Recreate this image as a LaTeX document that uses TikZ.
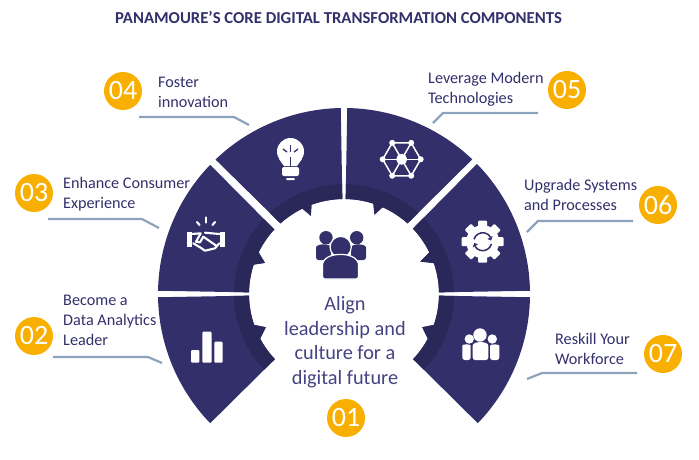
\documentclass[tikz,border=0pt]{standalone}
\usepackage{fontspec}
\setmainfont{Carlito}
\definecolor{ringnavy}{HTML}{332F6B}
\definecolor{ringdark}{HTML}{2A2759}
\definecolor{badgegold}{HTML}{F9AF00}
\definecolor{leaderblue}{HTML}{8CA3BC}
\definecolor{softnavy}{HTML}{464283}
\tikzset{
  sectorlabel/.style={font=\fontsize{16.2}{20}\selectfont,text=ringnavy,align=left,anchor=base west,inner sep=0pt},
  badge/.style={circle,fill=badgegold,text=white,minimum size=38pt,inner sep=0pt,font=\fontsize{28}{28}\selectfont},
  leader/.style={draw=leaderblue,line width=2.2pt},
  iconline/.style={white,line width=2.1pt,line join=round,line cap=round},
}
% one ring sector: outer arc from #1 to #2, then the inner edge #3
\newcommand\RingSector[3]{%
  \begin{scope}
    \clip (#1:186) arc (#1:#2:186) #3 -- cycle;
    \fill[ringnavy] (0,0) circle (190);
    \fill[ringdark] (0,0) circle (110);
  \end{scope}
}
\newcommand\PersonBody[5]{% left, right, top, bottom, looks
  \pgfmathsetmacro\bodyDrop{0.35*(#2-#1)}
  \path[#5,rounded corners=2.5pt] (#1,#4) -- (#1,{#3+\bodyDrop}) .. controls (#1,{#3-\bodyDrop/3}) and (#2,{#3-\bodyDrop/3}) .. (#2,{#3+\bodyDrop}) -- (#2,#4) -- cycle;
}
\begin{document}
\begin{tikzpicture}[x=1pt,y=-1pt]
\useasboundingbox (0,0) rectangle (699,459);

\node[font=\fontsize{16.7}{18}\selectfont\bfseries,text=ringnavy,inner sep=0pt] (title) at (338.5,17) {PANAMOURE’S CORE DIGITAL TRANSFORMATION COMPONENTS};

% the ring, angles run clockwise because y points down
\begin{scope}[shift={(344,294)}]
  \RingSector{136}{179}{-- (179:95) arc (179:161:95) -- (157:85) -- (152:95) arc (152:136.7:95)}
  \RingSector{181}{224}{-- (222.8:95) arc (222.8:206:95) -- (201.5:85) -- (198:95) arc (198:181:95)}
  \RingSector{226.3}{269}{-- (269:95) arc (269:250:95) -- (247:85) -- (244:95) arc (244:228:95)}
  \RingSector{271}{313.6}{-- (312:95) arc (312:294:95) -- (291:85) -- (288:95) arc (288:271:95)}
  \RingSector{315.6}{359}{-- (359:95) arc (359:341:95) -- (337:83) -- (334:95) arc (334:316.5:95)}
  \RingSector{1}{44}{-- (43.3:95) arc (43.3:28:95) -- (23:85) -- (19:95) arc (19:1:95)}
\end{scope}

% centre people
\fill[ringnavy] (326,237.7) circle (6.7);
\fill[ringnavy] (356.7,237.7) circle (6.7);
\PersonBody{316}{331}{245}{260}{fill=ringnavy}
\PersonBody{351}{366}{245}{260}{fill=ringnavy}
\fill[ringnavy,draw=white,line width=1.2pt] (340.7,247) circle (10.6);
\PersonBody{322.5}{358.5}{255}{279}{fill=ringnavy,draw=white,line width=1.2pt}

% bulb
\fill[white] (290.5,151.5) circle (13.5);
\fill[white] (279,159) -- (302,159) -- (297,166) -- (284,166) -- cycle;
\fill[white,rounded corners=2pt] (282,167) rectangle (299,176);
\fill[white,rounded corners=1pt] (286,178) rectangle (295,180);
\draw[ringnavy,line width=1.3pt] (290.5,145) -- (290.5,152);
\draw[ringnavy,line width=1.3pt] (283,149) -- (287,152);
\draw[ringnavy,line width=1.3pt] (298,149) -- (294,152);
\draw[ringnavy,line width=1.2pt] (290.5,157) -- (290.5,166);

% network
\begin{scope}[shift={(401.7,159.3)}]
  \draw[white,line width=1.5pt] (0:19) -- (60:19) -- (120:19) -- (180:19) -- (240:19) -- (300:19) -- cycle;
  \foreach \a in {0,60,...,300} {
    \draw[white,line width=1.5pt] (0,0) -- (\a:19);
    \fill[white] (\a:19) circle (3);
  }
  \fill[white] (0,0) circle (5.5);
\end{scope}

% gear
\begin{scope}[shift={(482.7,241.7)}]
  \fill[white] (0,0) circle (16.5);
  \foreach \a in {0,45,...,315} {
    \fill[white,rotate=\a,rounded corners=1pt] (13,-4.5) rectangle (21,4.5);
  }
  \draw[ringnavy,line width=1.5pt] (195:9) arc (195:330:9);
  \draw[ringnavy,line width=1.5pt] (15:9) arc (15:150:9);
  \fill[ringnavy] (330:11.5) -- (330:5.5) -- (352:8.5) -- cycle;
  \fill[ringnavy] (150:11.5) -- (150:5.5) -- (172:8.5) -- cycle;
\end{scope}

% handshake
\fill[white] (186.7,232) rectangle (191.7,247);
\fill[white] (219.5,232) rectangle (224.5,247);
\draw[iconline] (191.7,234) -- (200.7,233.3) -- (196,241.7) -- (200,242.3) -- (203.3,236.7) -- (216.7,246);
\draw[iconline] (205,232.7) -- (219.3,234);
\draw[iconline] (193.3,243.3) -- (200,247.3) -- (205,250.7) -- (215,248.3) -- (219.3,243.3);
\draw[iconline] (205.6,217.5) -- (205.6,222.5);
\draw[iconline] (197,222) -- (199.5,225);
\draw[iconline] (215,222) -- (212.5,225);

% bars
\fill[white,rounded corners=1pt] (191,350) rectangle (199.3,362.7);
\fill[white,rounded corners=1pt] (202.3,331.7) rectangle (211.7,362.7);
\fill[white,rounded corners=1pt] (214.3,341.7) rectangle (222.7,362.7);

% workforce
\fill[white] (469.3,339) circle (4.7);
\fill[white] (492.3,339) circle (4.7);
\fill[white] (480,335) circle (6.7);
\PersonBody{462.3}{470.7}{345}{360}{fill=white}
\PersonBody{490}{499.3}{345}{360}{fill=white}
\PersonBody{472.7}{488.3}{342.7}{360}{fill=white}

% leaders
\foreach \n/\xa/\ya/\xb/\xc/\yc in {a/139/117/234/249/125,b/48/219/142/159/228,c/53/357/148/162/363,d/538/113/443/433/123,e/633/221/538/527/232,f/637/373/542/527/379} {
  \coordinate (\n from) at (\xa,\ya);
  \coordinate (\n knee) at (\xb,\ya);
  \coordinate (\n to) at (\xc,\yc);
  \draw[leader] (\n from) -- (\n knee) -- (\n to);
}

\node[sectorlabel] (foster) at (158,107) {Foster\\innovation};
\node[sectorlabel] (enhance) at (63,208) {Enhance Consumer\\Experience};
\node[sectorlabel] (become) at (63,345) {Become a\\Data Analytics\\Leader};
\node[sectorlabel] (leverage) at (428,103) {Leverage Modern\\Technologies};
\node[sectorlabel] (upgrade) at (524,210) {Upgrade Systems\\and Processes};
\node[sectorlabel] (reskill) at (555,364) {Reskill Your\\Workforce};

\node[font=\fontsize{20.3}{24.5}\selectfont,text=softnavy,align=center,inner sep=0pt] (align) at (345,342) {Align\\leadership and\\culture for a\\digital future};

\node[badge] (b1) at (346,418) {01};
\node[badge] (b2) at (34,336) {02};
\node[badge] (b3) at (34,193) {03};
\node[badge] (b4) at (123,91) {04};
\node[badge] (b5) at (567,90) {05};
\node[badge] (b6) at (658,205) {06};
\node[badge] (b7) at (663,354) {07};
\end{tikzpicture}
\end{document}
